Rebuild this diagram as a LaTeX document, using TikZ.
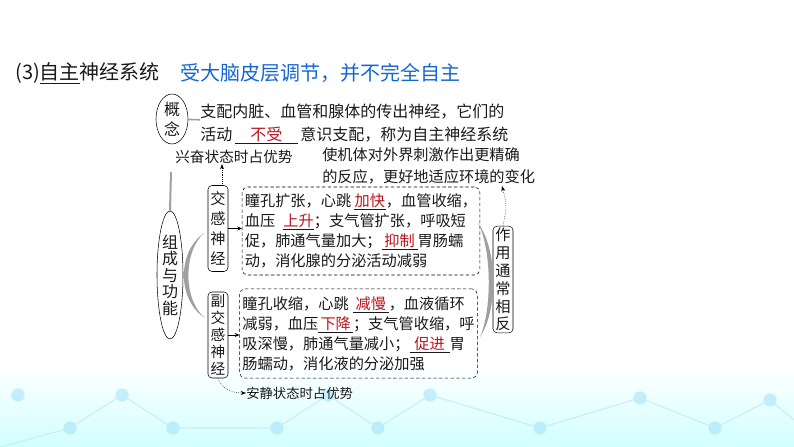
\documentclass[tikz,border=0pt]{standalone}
\usepackage{fontspec}
\setmainfont{Noto Sans CJK SC}
\usetikzlibrary{shapes.geometric,arrows.meta}

\definecolor{titleblue}{RGB}{22,102,210}
\definecolor{ansred}{RGB}{185,20,30}
\definecolor{linkgray}{RGB}{160,160,160}
\definecolor{ink}{RGB}{25,25,25}

% a blank with its answer
\newcommand{\blank}[2]{\underline{\makebox[#1]{\textcolor{ansred}{#2}}}}

\begin{document}
\begin{tikzpicture}[x=0.75pt, y=-0.75pt,
	infobox/.style={draw, dash pattern=on 2.5pt off 1.8pt, rounded corners=4pt,
		inner sep=2pt, align=left, text=ink,
		font=\fontsize{11.4pt}{15pt}\selectfont},
	vbox/.style={draw, rounded corners=3pt, inner sep=1pt, align=center,
		minimum width=15pt, text=ink},
	oval/.style={draw, ellipse, inner sep=0pt, align=center, text=ink,
		font=\fontsize{12pt}{15pt}\selectfont},
	note/.style={inner sep=0pt, align=left, text=ink},
	link/.style={linkgray, line width=1.5pt},
	dotarrow/.style={densely dotted, -{Stealth[length=4pt, width=3pt]}}]

\useasboundingbox (0,0) rectangle (794,447);

% background at the bottom
\shade [top color=white, bottom color=cyan!18] (0,365) rectangle (794,447);
\foreach \x/\y in {18/395, 122/395, 70/428, 173/428, 277/428, 328/395,
	378/428, 430/395, 540/428, 640/398, 715/428, 770/400}
	\fill [cyan!40, opacity=0.5] (\x,\y) circle (5pt);
\draw [cyan!22, line width=0.8pt] (0,447) -- (70,428) -- (122,395)
	-- (173,428) -- (277,428) -- (328,395) -- (378,428) -- (430,395)
	-- (540,428) -- (640,398) -- (715,428) -- (770,400) -- (794,420);

% title
\node [note, anchor=west, font=\fontsize{15pt}{18pt}\selectfont] (title)
	at (15,73) {(3)\underline{自主}神经系统};
\node [note, anchor=west, text=titleblue, font=\fontsize{15pt}{18pt}\selectfont]
	(remark) at (180,73) {受大脑皮层调节，并不完全自主};

% concept
\node [oval, minimum width=24pt, minimum height=37.5pt] (concept)
	at (172,119) {概\\念};
\node [note, anchor=west, font=\fontsize{12pt}{17pt}\selectfont] (def)
	at (200,124) {支配内脏、血管和腺体的传出神经，它们的\\
	活动\hspace{2pt}\blank{47pt}{不受}\hspace{2pt}意识支配，称为自主神经系统};
\draw [link, line width=1.2pt] (concept) -- (def);

% notes
\node [note, anchor=west, font=\fontsize{11pt}{14pt}\selectfont] (excite)
	at (175,157) {兴奋状态时占优势};
\node [note, anchor=west, font=\fontsize{11.4pt}{16.5pt}\selectfont] (adapt)
	at (322,166) {使机体对外界刺激作出更精确\\的反应，更好地适应环境的变化};
\node [note, anchor=west, font=\fontsize{10pt}{12pt}\selectfont] (rest)
	at (246,393) {安静状态时占优势};

% parts and functions
\node [oval, minimum width=19.5pt, minimum height=96pt,
	font=\fontsize{12pt}{12.4pt}\selectfont] (parts)
	at (170,275) {组\\成\\与\\功\\能};
\coordinate (stemtop) at (171,172);
\draw [link] (stemtop) -- (parts.north);

\node [vbox, minimum height=64.5pt, font=\fontsize{11.4pt}{15pt}\selectfont]
	(sym) at (218,228.5) {交\\感\\神\\经};
\node [vbox, minimum height=64.5pt, font=\fontsize{11pt}{12.8pt}\selectfont]
	(para) at (218,335) {副\\交\\感\\神\\经};

\fill [linkgray] (204,233) .. controls (177,252) and (177,300) .. (205,318)
	.. controls (183,300) and (183,252) .. (204,233) -- cycle;

\node [infobox, minimum width=174pt, minimum height=66pt]
	(symtext) at (361,231) {瞳孔扩张，心跳\hspace{2pt}\blank{24pt}{加快}，血管收缩，\\
	血压\hspace{6pt}\blank{23pt}{上升}；支气管扩张，呼吸短\\
	促，肺通气量加大；\blank{27pt}{抑制}胃肠蠕\\
	动，消化腺的分泌活动减弱};
\node [infobox, minimum width=172pt, minimum height=67pt]
	(paratext) at (358.5,333.5) {瞳孔收缩，心跳\hspace{3pt}\blank{27pt}{减慢}，血液循环\\
	减弱，血压\blank{26pt}{下降}；支气管收缩，呼\\
	吸深慢，肺通气量减小；\blank{30pt}{促进}胃\\
	肠蠕动，消化液的分泌加强};

\draw [-{Stealth[length=3.5pt, width=3pt]}] (sym.east) -- (sym.east -| symtext.west);
\draw [-{Stealth[length=3.5pt, width=3pt]}] (para.east) -- (para.east -| paratext.west);

% opposite effects
\node [vbox, minimum height=80pt, font=\fontsize{11.4pt}{13.4pt}\selectfont]
	(act) at (503,279.5) {作\\用\\通\\常\\相\\反};
\fill [linkgray] (478,223) .. controls (498,250) and (498,310) .. (480,337)
	.. controls (492,310) and (492,250) .. (478,223) -- cycle;

\coordinate (adaptend) at (502,186);
\draw [dotarrow] ([xshift=3pt]sym.north) -- ([xshift=3pt]sym.north |- excite.south);
\draw [dotarrow] (act.north) .. controls (507,205) .. (adaptend);
\draw [dotarrow] (para.south) to [out=-70, in=180] (rest.west);
\end{tikzpicture}
\end{document}
